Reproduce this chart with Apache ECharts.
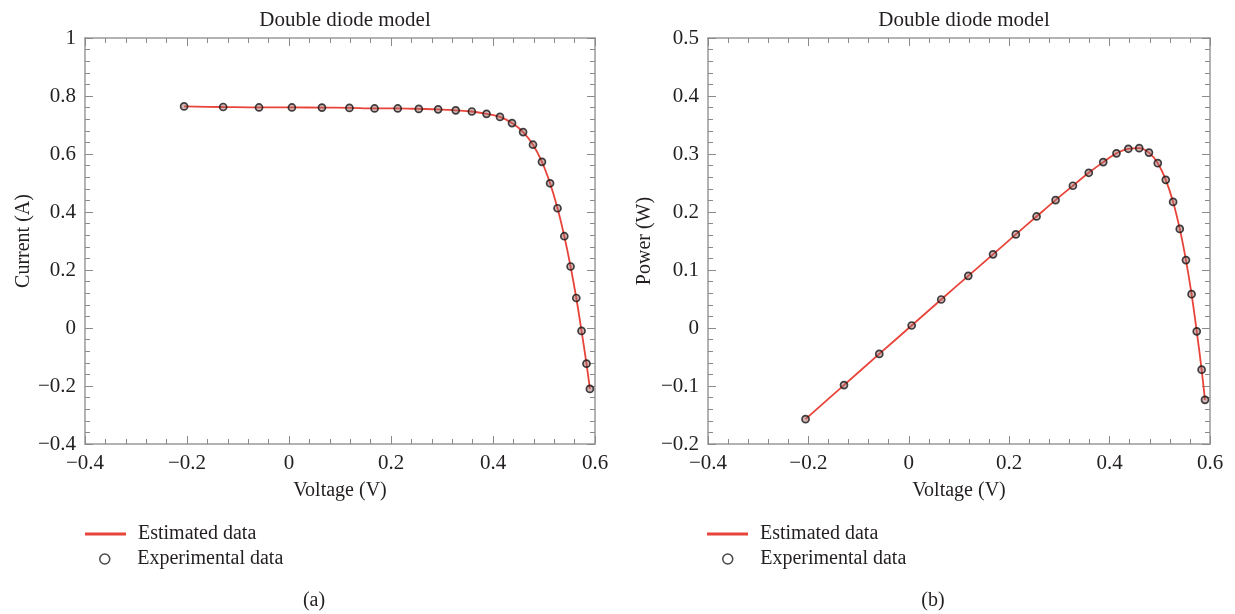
<!DOCTYPE html>
<html><head><meta charset="utf-8">
<script src="https://cdn.jsdelivr.net/npm/echarts@6/dist/echarts.min.js"></script>
<style>html,body{margin:0;padding:0;background:#fff}#c{width:1235px;height:614px}</style>
</head><body><div id="c"></div>
<script>
const voltage = [-0.2057,-0.1291,-0.0588,0.0057,0.0646,0.1185,0.1678,0.2132,0.2545,0.2924,0.3269,0.3585,0.3873,0.4137,0.4373,0.4590,0.4784,0.4960,0.5119,0.5265,0.5398,0.5521,0.5633,0.5736,0.5833,0.5900];
const current = [0.7640,0.7620,0.7605,0.7605,0.7600,0.7590,0.7570,0.7570,0.7555,0.7540,0.7505,0.7465,0.7385,0.7280,0.7065,0.6755,0.6320,0.5730,0.4990,0.4130,0.3165,0.2120,0.1035,-0.0100,-0.1230,-0.2100];
const power = [-0.1572,-0.0984,-0.0447,0.0043,0.0491,0.0899,0.1270,0.1614,0.1923,0.2205,0.2453,0.2676,0.2860,0.3012,0.3090,0.3101,0.3024,0.2842,0.2554,0.2174,0.1709,0.1171,0.0583,-0.0057,-0.0718,-0.1239];
const titles = ['Double diode model','Double diode model'];
const panelLabels = ['(a)','(b)'];
const seriesNames = ['Estimated data','Experimental data'];

const FONT = '"Liberation Serif", "DejaVu Serif", serif';
const TXT = '#231f20';
const FRAME = '#9a9a9a';
const RED = '#e8443a';
const fmt = v => String(Math.round(v*1000)/1000).replace('-', '\u2212');

const ivPts = voltage.map((v,i)=>[v,current[i]]);
const pvPts = voltage.map((v,i)=>[v,power[i]]);

const tickCommon = {
  axisLine:{show:true, onZero:false, lineStyle:{color:FRAME,width:1.5}},
  axisTick:{show:true, inside:true, length:8, lineStyle:{color:'#8a8a8a',width:1}},
  minorTick:{show:true, splitNumber:5, length:5, lineStyle:{color:'#8a8a8a',width:1}},
  splitLine:{show:false}
};
function xAxes(gi){
  const base = Object.assign({type:'value', gridIndex:gi, min:-0.4, max:0.6, interval:0.2}, tickCommon);
  return [
    Object.assign({}, base, {position:'bottom', name:'Voltage (V)', nameLocation:'middle', nameGap:37,
      nameTextStyle:{fontFamily:FONT,fontSize:20,color:TXT,verticalAlign:'top'},
      axisLabel:{fontFamily:FONT,fontSize:21,color:TXT,margin:9,formatter:fmt,verticalAlign:'top'}}),
    Object.assign({}, base, {position:'top', axisLabel:{show:false}})
  ];
}
function yAxes(gi,min,max,interval,name,gap){
  const base = Object.assign({type:'value', gridIndex:gi, min:min, max:max, interval:interval}, tickCommon);
  return [
    Object.assign({}, base, {position:'left', name:name, nameLocation:'middle', nameGap:gap,
      nameTextStyle:{fontFamily:FONT,fontSize:20,color:TXT},
      axisLabel:{fontFamily:FONT,fontSize:21,color:TXT,margin:9,formatter:fmt}}),
    Object.assign({}, base, {position:'right', axisLabel:{show:false}})
  ];
}

const scatterStyle = {color:'rgba(160,100,100,0.6)', borderColor:'#151515', borderWidth:1.7};
const legTxt = {fontFamily:FONT,fontSize:20,color:TXT,padding:[0,0,0,7]};
function legends(lineLeft, circLeft){
  return [
    {left:lineLeft, top:524, padding:0, itemWidth:41, itemHeight:3, icon:'rect', textStyle:legTxt,
      data:[{name:seriesNames[0], itemStyle:{color:RED, borderWidth:0}}]},
    {left:circLeft, top:549, padding:0, itemWidth:41, itemHeight:10, icon:'circle', textStyle:legTxt,
      data:[{name:seriesNames[1], itemStyle:{color:'#fff', borderColor:'#1a1a1a', borderWidth:1.5}}]}
  ];
}

const ttl = {fontFamily:FONT,fontSize:21,fontWeight:'normal',color:TXT};
const option = {
  backgroundColor:'#fff',
  animation:false,
  title:[
    {text:titles[0], left:340, top:5, textAlign:'center', textStyle:ttl},
    {text:titles[1], left:959, top:5, textAlign:'center', textStyle:ttl},
    {text:panelLabels[0], left:309, top:586, textAlign:'center', textStyle:Object.assign({},ttl,{fontSize:20})},
    {text:panelLabels[1], left:928, top:586, textAlign:'center', textStyle:Object.assign({},ttl,{fontSize:20})}
  ],
  grid:[
    {left:85, top:38, width:510, height:406},
    {left:708, top:38, width:502, height:406}
  ],
  xAxis:[...xAxes(0), ...xAxes(1)],
  yAxis:[...yAxes(0,-0.4,1,0.2,'Current (A)',51), ...yAxes(1,-0.2,0.5,0.1,'Power (W)',53)],
  legend:[...legends(85, 99), ...legends(707, 722)],
  series:[
    {name:seriesNames[0], type:'line', xAxisIndex:0, yAxisIndex:0, data:ivPts, smooth:0.35, symbol:'none', lineStyle:{color:RED,width:1.8}, itemStyle:{color:RED}, z:2},
    {name:seriesNames[1], type:'scatter', xAxisIndex:0, yAxisIndex:0, data:ivPts, symbol:'circle', symbolSize:7, itemStyle:scatterStyle, z:3},
    {name:seriesNames[0], type:'line', xAxisIndex:2, yAxisIndex:2, data:pvPts, smooth:0.35, symbol:'none', lineStyle:{color:RED,width:1.8}, itemStyle:{color:RED}, z:2},
    {name:seriesNames[1], type:'scatter', xAxisIndex:2, yAxisIndex:2, data:pvPts, symbol:'circle', symbolSize:7, itemStyle:scatterStyle, z:3}
  ]
};
const chart = echarts.init(document.getElementById('c'), null, {renderer:'canvas'});
chart.setOption(option);
</script></body></html>
